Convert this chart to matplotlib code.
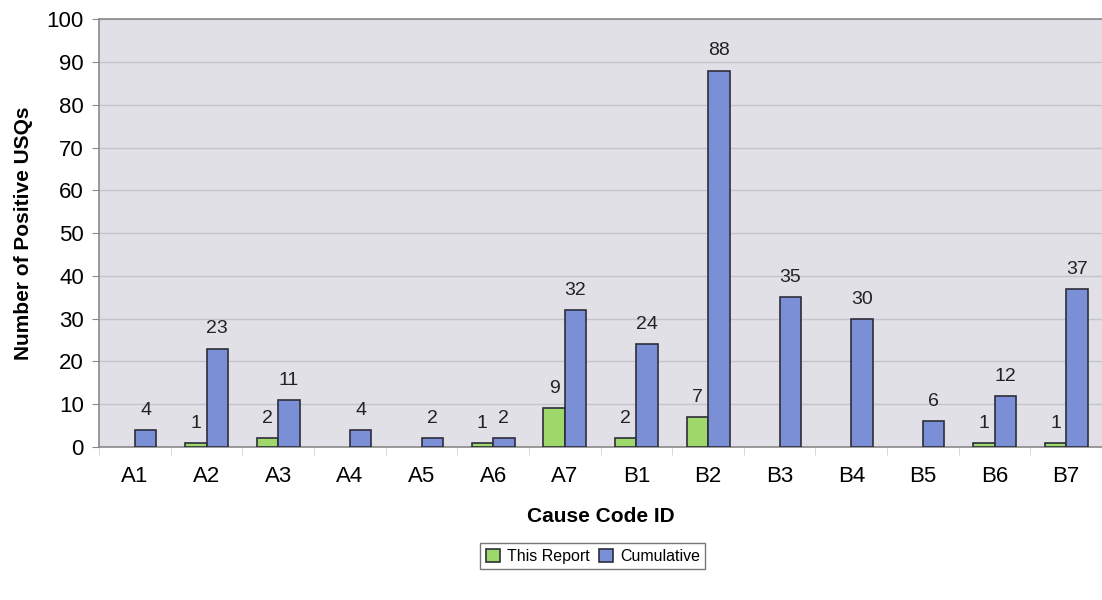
import numpy as np
import matplotlib
matplotlib.use('Agg')
import matplotlib.pyplot as plt
from matplotlib.patches import Patch

codes = ['A1', 'A2', 'A3', 'A4', 'A5', 'A6', 'A7',
         'B1', 'B2', 'B3', 'B4', 'B5', 'B6', 'B7']
this_report = [0, 1, 2, 0, 0, 1, 9, 2, 7, 0, 0, 0, 1, 1]
cumulative = [4, 23, 11, 4, 2, 2, 32, 24, 88, 35, 30, 6, 12, 37]

plt.rcParams['font.family'] = ['Liberation Sans', 'DejaVu Sans']

fig = plt.figure(figsize=(11.02, 6.0), dpi=100)
ax = fig.add_axes([0.090, 0.255, 0.910, 0.713])
ax.set_facecolor('#e0e0e6')

x = np.arange(len(codes))
w = 0.30
green = '#9fd86a'
blue = '#7b8fd6'
edge = '#2e2e3a'
b1 = ax.bar(x - w/2, this_report, w, color=green, edgecolor=edge, linewidth=1.2,
            zorder=3)
b2 = ax.bar(x + w/2, cumulative, w, color=blue, edgecolor=edge, linewidth=1.2,
            zorder=3)
# zero-height bars are not drawn in the original
for p, v in zip(b1.patches, this_report):
    if v == 0:
        p.set_visible(False)

for xi, v in zip(x, this_report):
    if v > 0:
        ax.annotate(str(v), (xi - w/2, v), xytext=(0, 8), textcoords='offset points',
                    ha='center', va='bottom', fontsize=14, color='#222222')
for xi, v in zip(x, cumulative):
    ax.annotate(str(v), (xi + w/2, v), xytext=(0, 8), textcoords='offset points',
                ha='center', va='bottom', fontsize=14, color='#222222')

ax.set_xlim(-0.5, len(codes) - 0.5)
ax.set_ylim(0, 100)
ax.set_yticks(range(0, 101, 10))
ax.yaxis.grid(True, color='#c4c4cc', linewidth=1.0, zorder=0)
ax.set_xticks(x)
ax.set_xticklabels(codes)
ax.set_xticks(np.arange(-0.5, len(codes), 1), minor=True)
ax.tick_params(axis='x', which='major', length=0, pad=14, labelsize=16)
ax.tick_params(axis='x', which='minor', length=6, color='#d0d0d0')
ax.tick_params(axis='y', length=5, color='#888888', labelsize=16, pad=6)

for s in ['left', 'bottom', 'top']:
    ax.spines[s].set_color('#8a8a8a')
    ax.spines[s].set_linewidth(1.2)
ax.spines['right'].set_visible(False)

ax.set_xlabel('Cause Code ID', fontsize=15, fontweight='bold', labelpad=14)
ax.set_ylabel('Number of Positive USQs', fontsize=15, fontweight='bold', labelpad=10)

handles = [Patch(facecolor=green, edgecolor=edge, linewidth=1.2, label='This Report'),
           Patch(facecolor=blue, edgecolor=edge, linewidth=1.2, label='Cumulative')]
fig.legend(handles=handles, loc='center', bbox_to_anchor=(0.538, 0.073), ncol=2,
           fontsize=11.5, frameon=True, fancybox=False, edgecolor='#555555',
           handlelength=0.9, handleheight=0.9, handletextpad=0.4, columnspacing=0.6,
           borderpad=0.35)

fig.savefig('out.png', dpi=100)
